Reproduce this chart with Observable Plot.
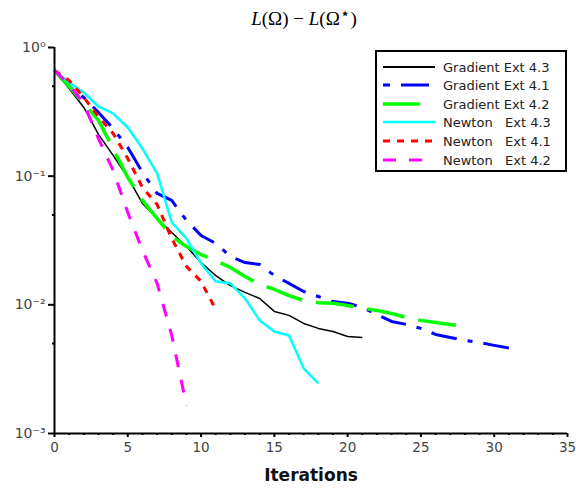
<!DOCTYPE html>
<html><head><meta charset="utf-8">
<script src="https://cdn.jsdelivr.net/npm/d3@7"></script>
<script src="https://cdn.jsdelivr.net/npm/@observablehq/plot@0.6"></script>
<style>body{margin:0;background:#fff;} #chart svg{font-family:"DejaVu Sans",sans-serif;}</style>
</head><body><div id="chart"></div>
<script>
// Values per iteration (index = iteration number)
const gradientExt43 = [0.662,0.480,0.342,0.211,0.145,0.0977,0.0614,0.0469,0.0365,0.0284,0.0213,0.0169,0.0141,0.0125,0.0112,0.00889,0.00828,0.00717,0.00656,0.00621,0.00568,0.00558];
const gradientExt41 = [0.662,0.498,0.409,0.313,0.235,0.167,0.107,0.0734,0.0648,0.0453,0.0346,0.0300,0.0238,0.0213,0.0206,0.0169,0.0147,0.0127,0.0116,0.0106,0.0103,0.00954,0.00842,0.00743,0.00704,0.00656,0.00589,0.00558,0.00529,0.00510,0.00484,0.00462];
const gradientExt42 = [0.662,0.498,0.367,0.271,0.164,0.0977,0.0648,0.0469,0.0340,0.0284,0.0246,0.0221,0.0195,0.0166,0.0144,0.0132,0.0118,0.0108,0.0104,0.0103,0.00989,0.00938,0.00905,0.00857,0.00798,0.00757,0.00730,0.00704,0.00679];
const newtonExt43 = [0.662,0.535,0.447,0.348,0.307,0.239,0.164,0.105,0.0437,0.0328,0.0210,0.0152,0.0147,0.0112,0.00757,0.00621,0.00578,0.00321,0.00245];
const newtonExt41 = [0.662,0.554,0.409,0.291,0.215,0.137,0.0817,0.0603,0.0328,0.0199,0.0152,0.00921];
const newtonExt42 = [0.662,0.516,0.367,0.196,0.111,0.0522,0.0265,0.0147,0.00578,0.00165];

const seriesNames = ["Gradient Ext 4.3","Gradient Ext 4.1","Gradient Ext 4.2","Newton   Ext 4.3","Newton   Ext 4.1","Newton   Ext 4.2"];
const seriesValues = [gradientExt43, gradientExt41, gradientExt42, newtonExt43, newtonExt41, newtonExt42];
const seriesColors = ["#000000","#0000ff","#00ff00","#00ffff","#ff0000","#ff00ff"];
const seriesWidths = [1.5, 3, 3.5, 2.5, 3, 3];
const seriesDash = [null, "26,11,5,11", "38,14", null, "7,7", "13,13"];
const legendDash = [null, "7,11,28,11", "37,20", null, "7,7", "13,13"];

const xTicks = [0,5,10,15,20,25,30,35];
const xMinorTicks = d3.range(0,36,1).filter(d => d % 5 !== 0);
const yTicks = [1e-3,1e-2,1e-1,1];
const yMinorTicks = [5e-3,5e-2,5e-1];

const sup = {"-":"⁻","0":"⁰","1":"¹","2":"²","3":"³","4":"⁴","5":"⁵","6":"⁶","7":"⁷","8":"⁸","9":"⁹"};
const fmtPow = d => "10" + String(Math.round(Math.log10(d))).split("").map(c => sup[c]).join("");

const rows = seriesValues.map((vals, k) => vals.map((v, i) => ({series: seriesNames[k], iter: i, value: v})));

const lineMarks = rows.map((data, k) => Plot.line(data, {
  x: "iter", y: "value", stroke: seriesColors[k], strokeWidth: seriesWidths[k],
  strokeDasharray: seriesDash[k] || undefined, strokeLinejoin: "round", strokeLinecap: "butt"
}));

const chart = Plot.plot({
  width: 576, height: 490,
  marginLeft: 54, marginRight: 9, marginTop: 47, marginBottom: 57,
  style: {fontFamily: "DejaVu Sans, sans-serif", fontSize: "13px", background: "white", color: "black"},
  x: {domain: [0, 35]},
  y: {type: "log", domain: [1e-3, 1]},
  marks: [
    ...lineMarks,
    Plot.ruleY([1e-3], {stroke: "black", strokeWidth: 2}),
    Plot.ruleX([0], {stroke: "black", strokeWidth: 2}),
    Plot.axisX({ticks: xTicks, tickSize: 4, tickPadding: 5, strokeWidth: 2, label: null, fill: "#444", fontSize: 13.5}),
    Plot.axisX({ticks: xMinorTicks, tickSize: 2, strokeWidth: 2, text: null, label: null}),
    Plot.axisY({ticks: yTicks, tickSize: 6, tickPadding: 3, strokeWidth: 2, tickFormat: fmtPow, label: null, fill: "#444", fontSize: 14}),
    Plot.axisY({ticks: yMinorTicks, tickSize: 2, strokeWidth: 2, text: null, label: null}),
    Plot.text(["Iterations"], {frameAnchor: "bottom", dy: 47, fontWeight: "bold", fontSize: 17, fill: "#111"})
  ]
});
document.getElementById("chart").appendChild(chart);

const svg = d3.select(chart);
// Title with math styling
const title = svg.append("text").attr("x", 304).attr("y", 25).attr("text-anchor", "middle")
  .style("font-family", "'Liberation Serif', 'DejaVu Serif', serif").style("font-size", "19px").attr("fill", "black");
title.append("tspan").style("font-style", "italic").text("L");
title.append("tspan").text("(Ω) − ");
title.append("tspan").style("font-style", "italic").text("L");
title.append("tspan").text("(Ω");
title.append("tspan").attr("dy", -6).style("font-size", "17px").style("font-family", "'DejaVu Sans', sans-serif").text("⋆");
title.append("tspan").attr("dy", 6).text(")");

// Legend
const lg = svg.append("g");
lg.append("rect").attr("x", 376).attr("y", 51).attr("width", 190).attr("height", 120)
  .attr("fill", "white").attr("stroke", "black").attr("stroke-width", 2);
const rowY = [67, 85, 104, 122, 141, 160];
seriesNames.forEach((name, k) => {
  lg.append("line").attr("x1", 383).attr("x2", 435).attr("y1", rowY[k]).attr("y2", rowY[k])
    .attr("stroke", seriesColors[k]).attr("stroke-width", Math.max(2, seriesWidths[k]))
    .attr("stroke-dasharray", legendDash[k] || null);
  lg.append("text").attr("x", 443).attr("y", rowY[k]).attr("dy", "0.35em")
    .attr("text-anchor", "start")
    .style("white-space", "pre").attr("xml:space", "preserve")
    .style("font-size", "13px").attr("fill", "#222").text(name);
});
</script>
</body></html>
